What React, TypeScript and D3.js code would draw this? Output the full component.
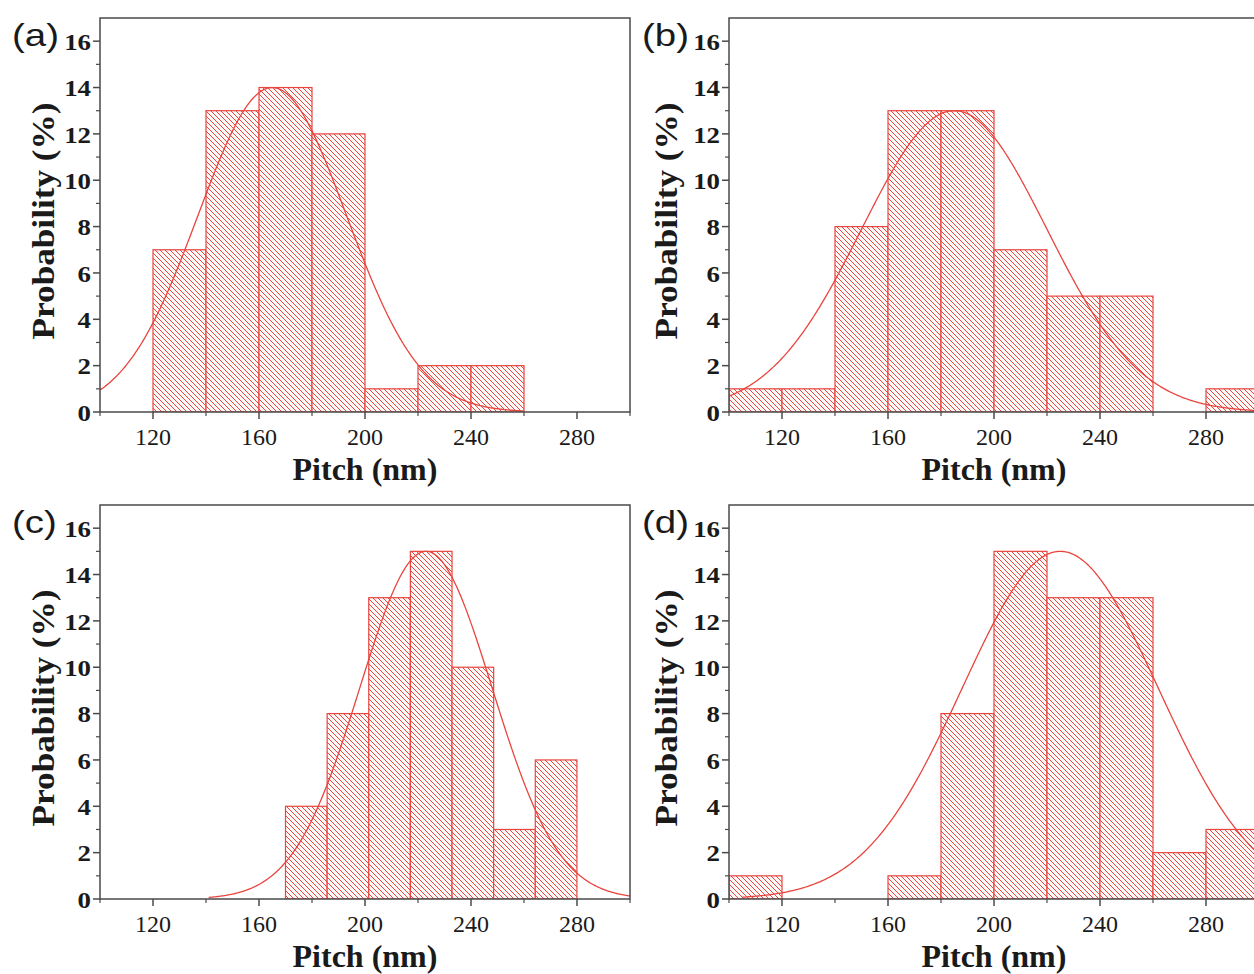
import React from "react";
import * as d3 from "d3";

// histogram counts, one array per panel
const countsA = [7, 13, 14, 12, 1, 2, 2];
const countsB = [1, 1, 8, 13, 13, 7, 5, 5, 0, 1];
const countsC = [4, 8, 13, 15, 10, 3, 6];
const countsD = [1, 0, 0, 1, 8, 15, 13, 13, 2, 3];

const panelLabels = ["(a)", "(b)", "(c)", "(d)"];
const binStart = [120, 100, 170, 100];
const binWidth = [20, 20, 15.71, 20];

// gaussian fit
const fitCenter = [165, 185, 223, 225];
const fitSigma = [28, 35, 25, 37];
const fitPeak = [14, 13, 15, 15];
const fitFrom = [100, 100, 141, 105];
const fitTo = [260, 300, 300, 300];

const xTicks = [120, 160, 200, 240, 280];
const xMinor = [100, 140, 180, 220, 260, 300];
const yTicks = [0, 2, 4, 6, 8, 10, 12, 14, 16];
const yMinor = [1, 3, 5, 7, 9, 11, 13, 15];

const RED = "#e8453e";
const AXIS = "#4a4a4a";
const serif = "'Liberation Serif', 'Times New Roman', serif";

const lefts = [100, 729, 100, 729];
const tops = [18, 18, 505, 505];
const bottoms = [412, 412, 899, 899];
const titleX = [54, 677, 54, 677];
const W = 530;

function Panel({ i, counts }: { i: number; counts: number[] }) {
  const left = lefts[i];
  const top = tops[i];
  const bottom = bottoms[i];
  const x = d3.scaleLinear().domain([100, 300]).range([left, left + W]);
  const y = d3.scaleLinear().domain([0, 17]).range([bottom, top]);

  const pts = d3
    .range(fitFrom[i], fitTo[i] + 0.01, 0.5)
    .map((v) => [v, fitPeak[i] * Math.exp(-((v - fitCenter[i]) ** 2) / (2 * fitSigma[i] ** 2))] as [number, number]);
  const line = d3
    .line<[number, number]>()
    .x((d) => x(d[0]))
    .y((d) => y(d[1]));

  return (
    <g>
      <defs>
        <clipPath id={"clip" + i}>
          <rect x={left} y={top} width={W} height={bottom - top} />
        </clipPath>
      </defs>
      <g clipPath={`url(#clip${i})`}>
        {counts.map((c, k) =>
          c > 0 ? (
            <rect
              key={k}
              x={x(binStart[i] + k * binWidth[i])}
              y={y(c)}
              width={x(binStart[i] + (k + 1) * binWidth[i]) - x(binStart[i] + k * binWidth[i])}
              height={y(0) - y(c)}
              fill="url(#hatch)"
              stroke={RED}
              strokeWidth={1.2}
            />
          ) : null
        )}
        <path d={line(pts) || ""} fill="none" stroke={RED} strokeWidth={1.3} />
      </g>
      <rect x={left} y={top} width={W} height={bottom - top} fill="none" stroke={AXIS} strokeWidth={1.5} />
      {yTicks.map((t) => (
        <g key={"y" + t}>
          <line x1={left - 7} x2={left} y1={y(t)} y2={y(t)} stroke={AXIS} strokeWidth={1.5} />
          <text
            transform={`translate(${left - 9},${y(t)}) scale(1.12,1)`}
            dy="0.36em"
            textAnchor="end"
            fontFamily={serif}
            fontWeight="bold"
            fontSize={24}
            fill="#1a1a1a"
          >
            {t}
          </text>
        </g>
      ))}
      {yMinor.map((t) => (
        <line key={"ym" + t} x1={left - 4} x2={left} y1={y(t)} y2={y(t)} stroke={AXIS} strokeWidth={1.2} />
      ))}
      {xTicks.map((t) => (
        <g key={"x" + t}>
          <line x1={x(t)} x2={x(t)} y1={bottom} y2={bottom + 7} stroke={AXIS} strokeWidth={1.5} />
          <text x={x(t)} y={bottom + 33} textAnchor="middle" fontFamily={serif} fontSize={24} fill="#1a1a1a">
            {t}
          </text>
        </g>
      ))}
      {xMinor.map((t) => (
        <line key={"xm" + t} x1={x(t)} x2={x(t)} y1={bottom} y2={bottom + 4} stroke={AXIS} strokeWidth={1.2} />
      ))}
      <text x={left + W / 2} y={bottom + 68} textAnchor="middle" fontFamily={serif} fontWeight="bold" fontSize={32} fill="#1a1a1a">
        Pitch (nm)
      </text>
      <text
        transform={`translate(${titleX[i]},${(top + bottom) / 2 + 6}) rotate(-90) scale(1.1,1)`}
        textAnchor="middle"
        fontFamily={serif}
        fontWeight="bold"
        fontSize={32}
        fill="#1a1a1a"
      >
        Probability (%)
      </text>
      <text
        transform={`translate(${i % 2 === 0 ? 12 : 642},${top + 28}) scale(1.2,1)`}
        fontFamily="'Liberation Sans', Arial, sans-serif"
        fontSize={32}
        fill="#1a1a1a"
      >
        {panelLabels[i]}
      </text>
    </g>
  );
}

export default function App() {
  const all = [countsA, countsB, countsC, countsD];
  return (
    <svg width={1254} height={974} style={{ position: "absolute", left: 0, top: 0, background: "#fff" }}>
      <defs>
        <pattern id="hatch" patternUnits="userSpaceOnUse" width={5} height={5}>
          <rect width={5} height={5} fill="#fffafa" />
          <path d="M0,0 L5,5 M-1,4 L1,6 M4,-1 L6,1" stroke={RED} strokeWidth={1} />
        </pattern>
      </defs>
      <rect width={1254} height={974} fill="#fff" />
      {all.map((c, i) => (
        <Panel key={i} i={i} counts={c} />
      ))}
    </svg>
  );
}
